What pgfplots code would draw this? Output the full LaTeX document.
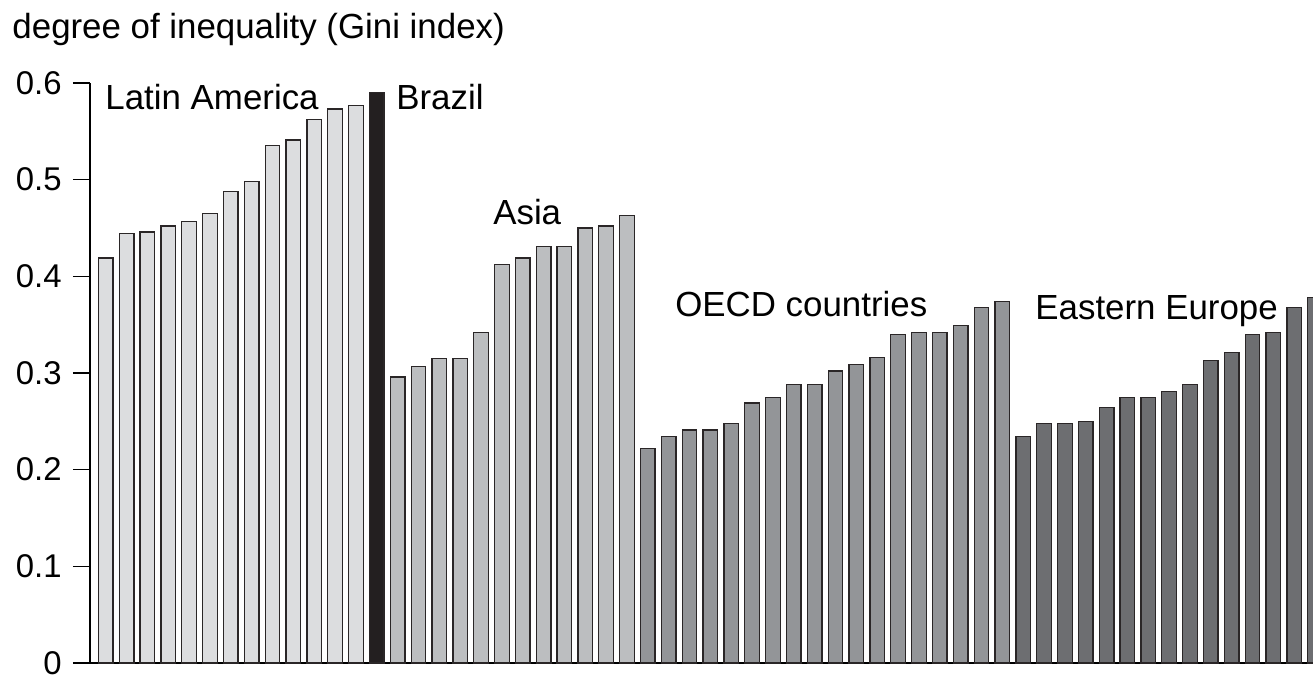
\documentclass[border=0pt]{standalone}
\usepackage{pgfplots}
\pgfplotsset{compat=1.18}
\usepackage{fontspec}
\setmainfont{Liberation Sans}

\definecolor{latam}{HTML}{DCDDDF}
\definecolor{brazil}{HTML}{231F20}
\definecolor{asia}{HTML}{BCBEC0}
\definecolor{oecd}{HTML}{939598}
\definecolor{eeur}{HTML}{6D6E71}
\definecolor{edge}{HTML}{2A2627}

\begin{document}
\begin{tikzpicture}
\begin{axis}[
  scale only axis, width=611.5bp, height=290bp,
  xmin=-0.753, xmax=57.9, ymin=0, ymax=0.6,
  axis x line=bottom, axis y line=left,
  axis line style={-, line width=0.6bp, black},
  xtick=\empty,
  ytick={0,0.1,0.2,0.3,0.4,0.5,0.6},
  yticklabels={0,0.1,0.2,0.3,0.4,0.5,0.6},
  tick align=outside, major tick length=8.5bp,
  tick style={line width=0.6bp, black},
  yticklabel style={font=\fontsize{16.5}{20}\selectfont, inner xsep=5.5bp, inner ysep=0pt},
  /pgf/number format/assume math mode=true,
  clip mode=individual,
  ybar, bar shift=0pt, bar width=0.7,
  every axis plot/.append style={draw=edge, line width=0.65bp},
]
% Latin America
\addplot[fill=latam] coordinates {(0,0.419)(1,0.444)(2,0.446)(3,0.452)(4,0.457)(5,0.465)(6,0.488)(7,0.498)(8,0.535)(9,0.541)(10,0.562)(11,0.573)(12,0.577)};
% Brazil
\addplot[fill=brazil] coordinates {(13,0.590)};
% Asia
\addplot[fill=asia] coordinates {(14,0.296)(15,0.307)(16,0.315)(17,0.315)(18,0.342)(19,0.412)(20,0.419)(21,0.431)(22,0.431)(23,0.450)(24,0.452)(25,0.463)};
% OECD countries
\addplot[fill=oecd] coordinates {(26,0.222)(27,0.234)(28,0.241)(29,0.241)(30,0.248)(31,0.269)(32,0.275)(33,0.288)(34,0.288)(35,0.302)(36,0.309)(37,0.316)(38,0.340)(39,0.342)(40,0.342)(41,0.349)(42,0.368)(43,0.374)};
% Eastern Europe
\addplot[fill=eeur] coordinates {(44,0.234)(45,0.248)(46,0.248)(47,0.250)(48,0.264)(49,0.275)(50,0.275)(51,0.281)(52,0.288)(53,0.313)(54,0.321)(55,0.340)(56,0.342)(57,0.368)(58,0.378)};

\begin{scope}[every node/.style={font=\fontsize{17.5}{20}\selectfont, inner sep=0pt, anchor=base west}]
\node at (axis cs:-0.03,0.5727) {Latin America};
\node at (axis cs:13.92,0.5727) {Brazil};
\node at (axis cs:18.57,0.4538) {Asia};
\node at (axis cs:27.30,0.3586) {OECD countries};
\node at (axis cs:44.57,0.3555) {Eastern Europe};
\node at (axis cs:-4.49,0.646) {degree of inequality (Gini index)};
\end{scope}
\coordinate (sw) at (rel axis cs:0,0);
\coordinate (ne) at (rel axis cs:1,1);
\end{axis}
\pgfresetboundingbox
\path[use as bounding box] ([xshift=-45bp,yshift=-6.5bp]sw) rectangle ([yshift=41.5bp]ne);
\end{tikzpicture}
\end{document}
